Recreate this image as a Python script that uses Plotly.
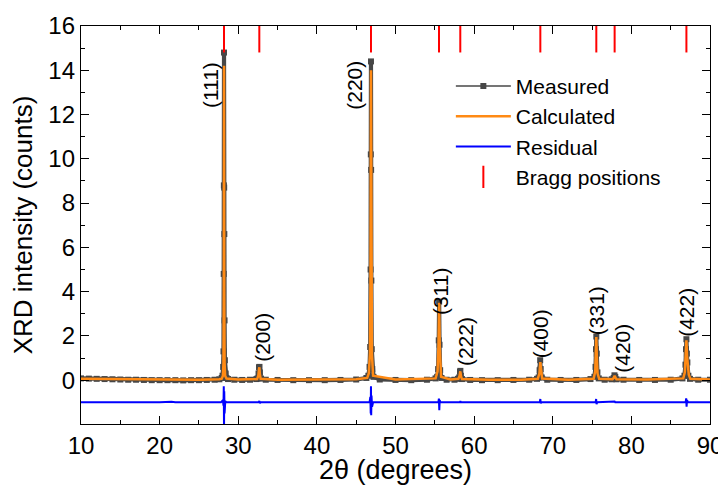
import plotly.graph_objects as go

# ---------------- data ----------------
meas_x = [10, 11, 12, 13, 14, 15, 16, 17, 18, 19, 20, 21, 22, 23, 24, 25, 26, 27, 27.6,
          27.9, 28.0, 28.08, 28.12, 28.15, 28.17, 28.19, 28.21, 28.23, 28.26, 28.3, 28.4, 28.5,
          28.7, 29.5, 30.5, 31.5, 32.3,
          32.45, 32.58, 32.64, 32.7, 32.76, 32.9,
          33.5, 35, 37, 39, 41, 43, 45, 46.3,
          46.55, 46.7, 46.78, 46.83, 46.86, 46.88, 46.9, 46.93, 46.98, 47.05, 47.2,
          48, 50, 52, 54, 55.1,
          55.3, 55.42, 55.5, 55.55, 55.6, 55.68, 55.85,
          56.5, 57.5, 57.95,
          58.1, 58.2, 58.25, 58.32, 58.45,
          59.5, 61, 63, 65, 67, 68.0,
          68.2, 68.33, 68.4, 68.47, 68.6,
          69.3, 71, 73, 74.8,
          75.3, 75.44, 75.5, 75.54, 75.6, 75.68, 75.85,
          76.6, 77.5,
          77.75, 77.85, 77.95, 78.1,
          79, 81, 83, 85, 86.5,
          86.75, 86.88, 86.95, 87.0, 87.06, 87.12, 87.25, 87.45,
          88.5, 90]
meas_y = [0.08, 0.07, 0.06, 0.05, 0.04, 0.03, 0.02, 0.02, 0.01, 0.0, 0.0, 0.0, 0.0, -0.01, 0.0, 0.0, 0.01, 0.02, 0.04,
          0.1, 0.2, 0.6, 1.3, 4.8, 8.8, 14.8, 8.7, 6.6, 2.7, 0.9, 0.3, 0.1,
          0.05, 0.02, 0.01, 0.02, 0.05,
          0.08, 0.3, 0.58, 0.6, 0.35, 0.07,
          0.02, 0.01, 0.0, 0.0, 0.0, 0.01, 0.03, 0.1,
          0.2, 0.6, 1.5, 5.0, 10.2, 14.4, 9.5, 4.5, 1.4, 0.5, 0.15,
          0.03, 0.01, 0.0, 0.02, 0.08,
          0.15, 0.5, 1.8, 3.55, 1.6, 0.45, 0.1,
          0.02, 0.02, 0.06,
          0.12, 0.38, 0.42, 0.2, 0.05,
          0.01, 0.0, 0.0, 0.01, 0.02, 0.06,
          0.12, 0.45, 0.9, 0.5, 0.12,
          0.02, 0.01, 0.01, 0.05,
          0.15, 0.6, 1.4, 1.97, 1.2, 0.35, 0.08,
          0.02, 0.04,
          0.1, 0.22, 0.15, 0.04,
          0.02, 0.01, 0.01, 0.02, 0.08,
          0.2, 0.7, 1.4, 1.85, 1.2, 0.8, 0.2, 0.06,
          0.02, 0.02]

calc_x = [10, 15, 20, 25, 27.6,
          27.9, 28.05, 28.12, 28.16, 28.19, 28.22, 28.26, 28.33, 28.5,
          30, 32.4,
          32.55, 32.64, 32.69, 32.74, 32.85,
          35, 40, 45, 46.4,
          46.6, 46.75, 46.82, 46.88, 46.94, 47.0, 47.15,
          50, 55.1,
          55.35, 55.47, 55.55, 55.63, 55.8,
          57, 58.0,
          58.15, 58.24, 58.33, 58.45,
          62, 66, 68.1,
          68.3, 68.42, 68.52, 68.65,
          72, 75.2,
          75.4, 75.5, 75.54, 75.6, 75.7, 75.9,
          77.6,
          77.78, 77.87, 77.96, 78.1,
          82, 86.6,
          86.8, 86.92, 87.0, 87.08, 87.14, 87.3, 87.5,
          90]
calc_y = [0.06, 0.04, 0.02, 0.02, 0.04,
          0.07, 0.2, 0.8, 4.0, 14.2, 4.0, 0.8, 0.2, 0.07,
          0.03, 0.05,
          0.2, 0.5, 0.58, 0.3, 0.06,
          0.02, 0.02, 0.04, 0.1,
          0.3, 1.2, 4.5, 14.0, 4.3, 1.2, 0.2,
          0.03, 0.08,
          0.4, 1.6, 3.5, 1.5, 0.15,
          0.03, 0.06,
          0.2, 0.4, 0.18, 0.05,
          0.02, 0.02, 0.06,
          0.3, 0.82, 0.3, 0.07,
          0.02, 0.06,
          0.4, 1.3, 1.95, 1.1, 0.3, 0.06,
          0.04,
          0.12, 0.2, 0.12, 0.04,
          0.03, 0.08,
          0.35, 1.2, 1.8, 1.1, 0.8, 0.25, 0.06,
          0.03]

resid_x = [10, 15, 20, 21.5, 22, 27.8,
           28.05, 28.12, 28.16, 28.19, 28.22, 28.26, 28.35, 28.5,
           32.6, 32.68, 32.76, 32.85,
           46.7, 46.8, 46.85, 46.88, 46.91, 46.95, 47.02, 47.15,
           55.45, 55.52, 55.57, 55.62, 55.7,
           58.2, 58.25, 58.3,
           68.35, 68.42, 68.48, 68.55,
           75.45, 75.52, 75.57, 75.65,
           77.87, 77.95,
           86.9, 86.97, 87.02, 87.08, 87.2,
           90]
resid_y = [-1.0, -1.01, -1.0, -0.98, -1.0, -1.0,
           -0.9, -1.15, -0.27, -2.3, -0.5, -1.5, -0.95, -1.0,
           -1.0, -0.94, -1.04, -1.0,
           -1.0, -0.75, -1.5, -0.27, -1.58, -0.7, -1.2, -1.0,
           -1.0, -0.83, -1.36, -0.9, -1.0,
           -1.0, -0.95, -1.0,
           -1.0, -0.85, -1.05, -1.0,
           -1.0, -0.85, -1.08, -1.0,
           -0.96, -1.0,
           -1.0, -0.82, -1.2, -0.9, -1.0,
           -1.0]

bragg_pos = [28.19, 32.68, 46.88, 55.53, 58.24, 68.42, 75.54, 77.87, 87.0]

hkl_labels = ["(111)", "(200)", "(220)", "(311)", "(222)", "(400)", "(331)", "(420)", "(422)"]
hkl_x = [26.4, 33.0, 44.85, 55.66, 58.84, 68.4, 75.5, 78.77, 87.03]
hkl_y = [13.33, 1.95, 13.3, 3.98, 1.72, 2.08, 3.16, 1.45, 3.07]

y_ticks = [0, 2, 4, 6, 8, 10, 12, 14, 16]
y_minor = [1, 3, 5, 7, 9, 11, 13, 15]

# ---------------- style ----------------
FONT = "Arial, 'Liberation Sans', sans-serif"
GRAY = "#474747"
ORANGE = "#ff8a14"
BLUE = "#0000ff"
RED = "#ff0000"
BRAGG_LEVEL = 15.5

fig = go.Figure()

# thick band of overlapping measured points
fig.add_trace(go.Scatter(x=meas_x, y=meas_y, mode="lines",
                         line=dict(color=GRAY, width=4.2), showlegend=False,
                         hoverinfo="skip"))
fig.add_trace(go.Scatter(x=meas_x, y=meas_y, mode="lines+markers", name="Measured",
                         line=dict(color=GRAY, width=1.5),
                         marker=dict(symbol="square", size=6, color=GRAY)))
fig.add_trace(go.Scatter(x=calc_x, y=calc_y, mode="lines", name="Calculated",
                         line=dict(color=ORANGE, width=2.5)))
fig.add_trace(go.Scatter(x=resid_x, y=resid_y, mode="lines", name="Residual",
                         line=dict(color=BLUE, width=2)))
fig.add_trace(go.Scatter(x=bragg_pos, y=[BRAGG_LEVEL] * len(bragg_pos), mode="markers",
                         name="Bragg positions",
                         marker=dict(symbol="line-ns", size=22,
                                     line=dict(color=RED, width=2), color=RED)))

for lab, lx, ly in zip(hkl_labels, hkl_x, hkl_y):
    fig.add_annotation(x=lx, y=ly, xref="x", yref="y", text=lab, showarrow=False,
                       textangle=-90, font=dict(family=FONT, size=21, color="black"))

axis_common = dict(showline=True, linecolor="black", linewidth=1.3, mirror="allticks",
                   ticks="inside", ticklen=8, tickwidth=1.3, tickcolor="black",
                   showgrid=False, zeroline=False, automargin=False,
                   tickfont=dict(family=FONT, size=24, color="black"))

fig.update_xaxes(range=[10, 90], dtick=10, tick0=10,
                 minor=dict(dtick=5, ticks="inside", ticklen=4, tickcolor="black", tickwidth=1.3),
                 title=dict(text="2θ (degrees)", font=dict(family=FONT, size=27, color="black"),
                            standoff=6),
                 **axis_common)
fig.update_yaxes(range=[-1.98, 16], tickmode="array", tickvals=y_ticks,
                 minor=dict(tickmode="array", tickvals=y_minor, ticks="inside", ticklen=4,
                            tickcolor="black", tickwidth=1.3),
                 title=dict(text="XRD intensity (counts)", font=dict(family=FONT, size=26, color="black"),
                            standoff=8),
                 **axis_common)

# the page body adds an 8 px offset, so the figure is 718x477 with matching margins
fig.update_layout(
    width=718, height=477,
    margin=dict(l=73, r=16, t=18, b=61),
    plot_bgcolor="white", paper_bgcolor="white",
    font=dict(family=FONT, color="black"),
    legend=dict(x=0.588, y=0.90, xanchor="left", yanchor="top",
                bgcolor="rgba(0,0,0,0)", font=dict(family=FONT, size=21, color="black"),
                itemwidth=55, tracegroupgap=0),
)

fig.write_html("out.html")
